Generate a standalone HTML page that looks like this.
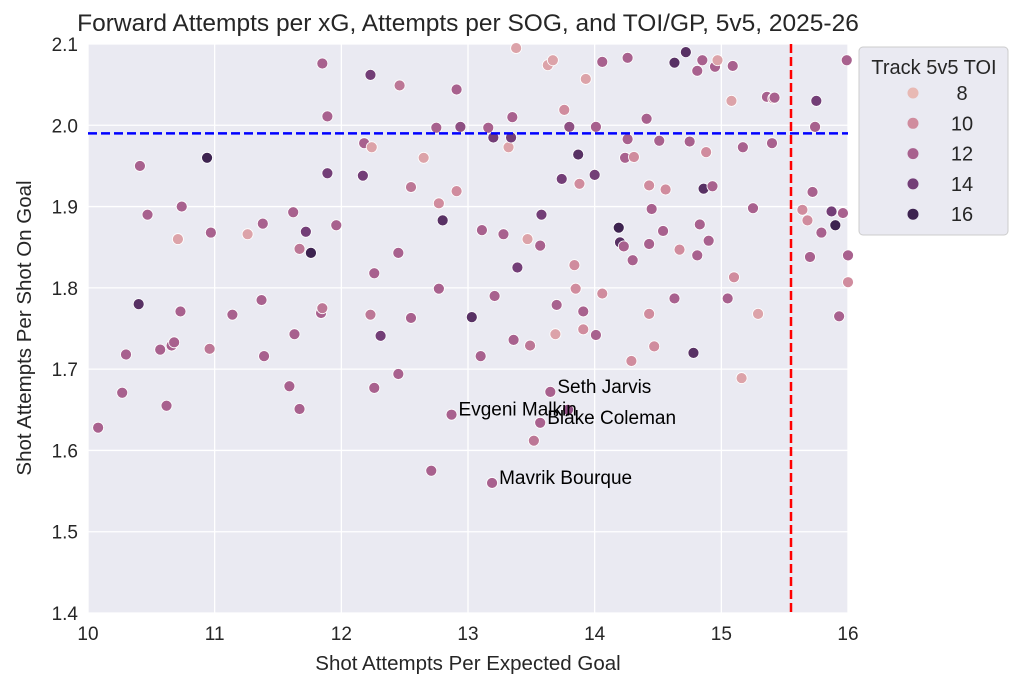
<!DOCTYPE html>
<html><head><meta charset="utf-8"><style>
body{margin:0;background:#fff;font-family:"Liberation Sans",Arial,sans-serif}
svg text{font-family:"Liberation Sans",Arial,sans-serif;fill:#262626}
</style></head><body>
<svg id="chart" width="1024" height="692" xmlns="http://www.w3.org/2000/svg">
<text x="468" y="31" font-size="24.5" text-anchor="middle">Forward Attempts per xG, Attempts per SOG, and TOI/GP, 5v5, 2025-26</text>
<rect x="88" y="44" width="760" height="569" fill="#eaeaf2"/>
<g id="grid"></g>
<g id="ticks"></g>
<g id="points"></g>
<g id="refs"></g>
<g id="labels"></g>
<text x="468" y="670" font-size="20.5" text-anchor="middle">Shot Attempts Per Expected Goal</text>
<text transform="translate(31,328) rotate(-90)" font-size="20.5" text-anchor="middle">Shot Attempts Per Shot On Goal</text>
<g>
<rect x="859" y="47" width="149" height="188" rx="4" fill="#eaeaf2" stroke="#cccccc"/>
<text x="934" y="74" font-size="20" text-anchor="middle">Track 5v5 TOI</text>
<g id="legend-items"></g>
</g>
</svg>
<script>
const xTicks=[10,11,12,13,14,15,16];
const yTicks=[1.4,1.5,1.6,1.7,1.8,1.9,2.0,2.1];
const xVals=[10.08,10.27,10.30,10.40,10.41,10.47,10.57,10.62,10.66,10.68,10.73,10.71,10.74,10.94,10.97,10.96,11.14,11.26,11.37,11.38,11.39,11.59,11.62,11.63,11.67,11.67,11.72,11.76,11.84,11.85,11.85,11.89,11.89,11.96,12.17,12.18,12.23,12.24,12.23,12.26,12.26,12.31,12.45,12.45,12.46,12.55,12.55,12.65,12.71,12.75,12.77,12.77,12.80,12.87,12.91,12.91,12.94,13.03,13.10,13.11,13.16,13.19,13.20,13.21,13.28,13.32,13.34,13.35,13.36,13.57,13.39,13.38,13.47,13.49,13.52,13.57,13.58,13.63,13.67,13.65,13.69,13.70,13.74,13.76,13.80,13.79,13.84,13.85,13.87,13.88,13.91,13.91,13.93,14.0,14.01,14.01,14.06,14.06,14.19,14.20,14.23,14.24,14.26,14.26,14.29,14.30,14.31,14.41,14.43,14.43,14.43,14.45,14.47,14.51,14.54,14.56,14.72,14.63,14.63,14.67,14.75,14.78,14.81,14.81,14.83,14.85,14.86,14.88,14.90,14.93,14.95,14.97,15.05,15.08,15.09,15.10,15.16,15.17,15.25,15.29,15.36,15.41,15.42,15.40,15.64,15.68,15.70,15.72,15.74,15.75,15.79,15.87,15.90,15.93,15.96,15.99,16.0,16.0];
const yVals=[1.628,1.671,1.718,1.78,1.95,1.89,1.724,1.655,1.729,1.733,1.771,1.86,1.90,1.96,1.868,1.725,1.767,1.866,1.785,1.879,1.716,1.679,1.893,1.743,1.651,1.848,1.869,1.843,1.769,1.775,2.076,2.011,1.941,1.877,1.938,1.978,1.767,1.973,2.062,1.818,1.677,1.741,1.694,1.843,2.049,1.763,1.924,1.96,1.575,1.997,1.904,1.799,1.883,1.644,1.919,2.044,1.998,1.764,1.716,1.871,1.997,1.560,1.985,1.79,1.866,1.973,1.985,2.010,1.736,1.634,1.825,2.095,1.860,1.729,1.612,1.852,1.89,2.074,2.080,1.672,1.743,1.779,1.934,2.019,1.998,1.65,1.828,1.799,1.964,1.928,1.749,1.771,2.057,1.939,1.998,1.742,1.793,2.078,1.874,1.856,1.851,1.96,1.983,2.083,1.71,1.834,1.961,2.008,1.926,1.854,1.768,1.897,1.728,1.981,1.87,1.921,2.09,2.077,1.787,1.847,1.98,1.72,2.067,1.84,1.878,2.08,1.922,1.967,1.858,1.925,2.072,2.08,1.787,2.03,2.073,1.813,1.689,1.973,1.898,1.768,2.035,2.033,2.034,1.978,1.896,1.883,1.838,1.918,1.998,2.03,1.868,1.894,1.877,1.765,1.892,2.08,1.807,1.84];
const toiVals=[12,12,12,15,12,12,12,12,12,12,12,9,12,16,12,11,12,9,12,12,12,12,12,12,12,11,14,16,12,11,12,12,14,12,14,12,11,9,14,12,12,14,12,12,11,12,11,9,12,12,10,12,15,12,10,12,13,15,12,12,12,12,14,12,12,9,14,12,12,12,14,9,9,11,11,12,14,9,9,12,9,12,14,10,13,13,10,10,15,10,10,12,9,14,12,12,10,12,16,15,12,12,12,12,10,12,10,12,10,12,10,12,10,12,12,10,15,15,12,10,12,15,12,12,12,12,15,10,12,12,12,9,12,9,12,10,9,12,12,9,12,10,12,12,10,10,12,12,12,14,12,14,16,12,12,12,10,12];
const labelNames=["Seth Jarvis","Evgeni Malkin","Blake Coleman","Mavrik Bourque"];
const labelX=[13.65,12.87,13.57,13.19];
const labelY=[1.672,1.644,1.634,1.56];
const legendVals=[8,10,12,14,16];
const NS="http://www.w3.org/2000/svg";
const X0=10,X1=16,Y0=1.4,Y1=2.1,L=88,R=848,T=44,B=613;
const sx=v=>L+(v-X0)/(X1-X0)*(R-L);
const sy=v=>B-(v-Y0)/(Y1-Y0)*(B-T);
const stops=[[8,[232,185,180]],[10,[208,140,158]],[12,[168,97,142]],[14,[115,62,119]],[16,[61,35,80]]];
function col(t){t=Math.max(8,Math.min(16,t));for(let i=0;i<stops.length-1;i++){const[a,ca]=stops[i],[b,cb]=stops[i+1];if(t<=b){const f=(t-a)/(b-a);return`rgb(${ca.map((c,j)=>Math.round(c+(cb[j]-c)*f)).join(',')})`;}}return'rgb(61,35,80)';}
function mk(tag,attrs,parent){const e=document.createElementNS(NS,tag);for(const k in attrs)e.setAttribute(k,attrs[k]);parent.appendChild(e);return e;}
const g=document.getElementById('grid'),tk=document.getElementById('ticks');
xTicks.forEach(v=>{const l=mk('line',{x1:sx(v),x2:sx(v),y1:T,y2:B,stroke:'#fff','stroke-width':1.3},g);


const t=mk('text',{x:sx(v),y:B+27,'font-size':19,'text-anchor':'middle'},tk);t.textContent=v;

});
yTicks.forEach(v=>{const l=mk('line',{x1:L,x2:R,y1:sy(v),y2:sy(v),stroke:'#fff','stroke-width':1.3},g);


const t=mk('text',{x:L-10,y:sy(v)+7,'font-size':19,'text-anchor':'end'},tk);t.textContent=v.toFixed(1);

});
const pg=document.getElementById('points');
xVals.forEach((x,i)=>{const c=mk('circle',{cx:sx(x),cy:sy(yVals[i]),r:5.5,fill:col(toiVals[i]),stroke:'#fff','stroke-width':0.8},pg);

});
const rf=document.getElementById('refs');
const h=mk('line',{x1:L,x2:R,y1:sy(1.99),y2:sy(1.99),stroke:'#0000ff','stroke-width':2.5,'stroke-dasharray':'9,4'},rf);


const vl=mk('line',{x1:sx(15.55),x2:sx(15.55),y1:T,y2:B,stroke:'#ff0000','stroke-width':2.5,'stroke-dasharray':'9,4'},rf);


const lb=document.getElementById('labels');
labelNames.forEach((n,i)=>{const t=mk('text',{x:sx(labelX[i])+7,y:sy(labelY[i])+1,'font-size':19,fill:'#000'},lb);t.textContent=n;t.style.fill='#000';

});
const li=document.getElementById('legend-items');
legendVals.forEach((v,i)=>{const y=93+i*30.3;const c=mk('circle',{cx:913,cy:y,r:5.5,fill:col(v)},li);


const t=mk('text',{x:962,y:y+7,'font-size':20,'text-anchor':'middle'},li);t.textContent=v;

});
</script>
</body></html>
